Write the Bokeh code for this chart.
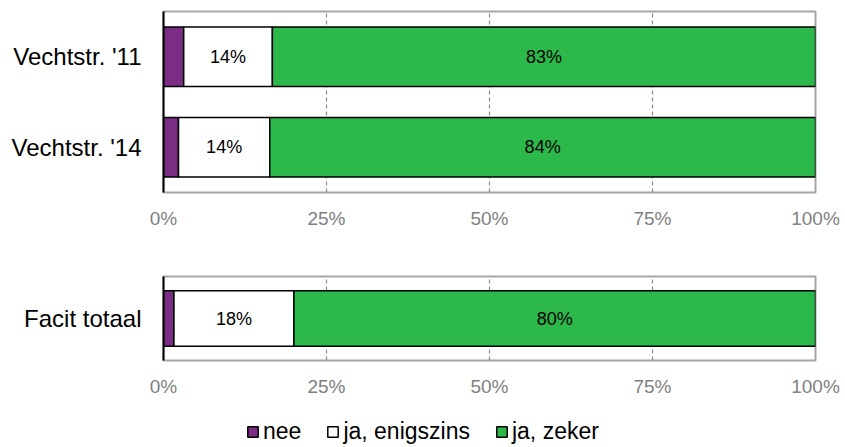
from bokeh.plotting import figure
from bokeh.models import ColumnDataSource, FactorRange, Range1d, FixedTicker, Legend, LegendItem
from bokeh.layouts import column
from bokeh.embed import file_html
from bokeh.resources import INLINE
from bokeh.core.properties import value

# ---- data ----
groups_top = ["Vechtstr. '11", "Vechtstr. '14"]
nee_top = [3.1, 2.3]
enig_top = [13.6, 14.0]
zeker_top = [83.3, 83.7]

groups_bottom = ["Facit totaal"]
nee_bottom = [1.6]
enig_bottom = [18.4]
zeker_bottom = [80.0]

series_names = ["nee", "ja, enigszins", "ja, zeker"]
series_colors = ["#7B2C83", "#FFFFFF", "#2DB84B"]
x_ticks = [0, 25, 50, 75, 100]
x_tick_labels = ["0%", "25%", "50%", "75%", "100%"]

FONT = "Liberation Sans"
W = 845
LEFT = 163
RIGHT = 30


def make_panel(groups, series_values, height, border_top, border_bottom):
    p = figure(width=W, height=height,
               y_range=FactorRange(*reversed(groups)),
               x_range=Range1d(0, 100),
               output_backend="svg", toolbar_location=None,
               min_border_left=LEFT, min_border_right=RIGHT,
               min_border_top=border_top, min_border_bottom=border_bottom)
    left = [0.0] * len(groups)
    for name, color, vals in zip(series_names, series_colors, series_values):
        right = [l + v for l, v in zip(left, vals)]
        src = ColumnDataSource(dict(
            y=groups, left=left, right=right,
            mid=[(l + r) / 2 for l, r in zip(left, right)],
            label=[f"{round(v)}%" for v in vals]))
        p.hbar(y="y", left="left", right="right", height=0.66, source=src,
               fill_color=color, line_color="black", line_width=1.5)
        if name != "nee":
            p.text(x="mid", y="y", text="label", source=src,
                   text_align="center", text_baseline="middle",
                   text_font=value(FONT), text_font_size="18px", text_color="black")
        left = right

    p.outline_line_color = "#a6a6a6"
    p.outline_line_width = 2
    p.ygrid.visible = False
    p.xgrid.ticker = FixedTicker(ticks=x_ticks[1:-1])
    p.xgrid.grid_line_color = "#8c8c8c"
    p.xgrid.grid_line_dash = "4 3"
    p.xgrid.grid_line_width = 1.2

    xa = p.xaxis[0]
    xa.ticker = FixedTicker(ticks=x_ticks)
    xa.major_label_overrides = {t: lab for t, lab in zip(x_ticks, x_tick_labels)}
    xa.axis_line_color = None
    xa.major_tick_line_color = None
    xa.minor_tick_line_color = None
    xa.major_tick_out = 0
    xa.major_label_standoff = 15
    xa.major_label_text_font = FONT
    xa.major_label_text_font_size = "19px"
    xa.major_label_text_color = "#7f7f7f"

    ya = p.yaxis[0]
    ya.axis_line_color = "black"
    ya.axis_line_width = 2
    ya.major_tick_line_color = None
    ya.minor_tick_line_color = None
    ya.major_tick_out = 0
    ya.major_label_standoff = 22
    ya.major_label_text_font = FONT
    ya.major_label_text_font_size = "24px"
    ya.major_label_text_color = "black"
    return p


p1 = make_panel(groups_top, [nee_top, enig_top, zeker_top], 248, 11, 56)
p2 = make_panel(groups_bottom, [nee_bottom, enig_bottom, zeker_bottom], 152, 28, 40)

lg = figure(width=W, height=47, output_backend="svg", toolbar_location=None,
            min_border=0, min_border_left=LEFT, min_border_right=RIGHT,
            x_range=Range1d(0, 1), y_range=Range1d(0, 1),
            x_axis_location=None, y_axis_location=None)
lg.outline_line_color = None
lg.grid.visible = False
items = []
nan = float("nan")
for name, color in zip(series_names, series_colors):
    # placeholder renderers (no drawable data) only used for legend glyphs
    r = lg.hbar(y=[nan], left=[nan], right=[nan], height=0.5,
                fill_color=color, line_color="black", line_width=1.5)
    items.append(LegendItem(label=name, renderers=[r]))
legend = Legend(items=items, orientation="horizontal", location=(83, 2),
                glyph_width=13, glyph_height=13, label_standoff=4, spacing=25,
                padding=0, margin=0, border_line_color=None,
                background_fill_alpha=0,
                label_text_font=FONT, label_text_font_size="23px",
                label_text_color="black")
lg.add_layout(legend, "center")

layout = column(p1, p2, lg)
open("out.html", "w").write(file_html(layout, INLINE))
